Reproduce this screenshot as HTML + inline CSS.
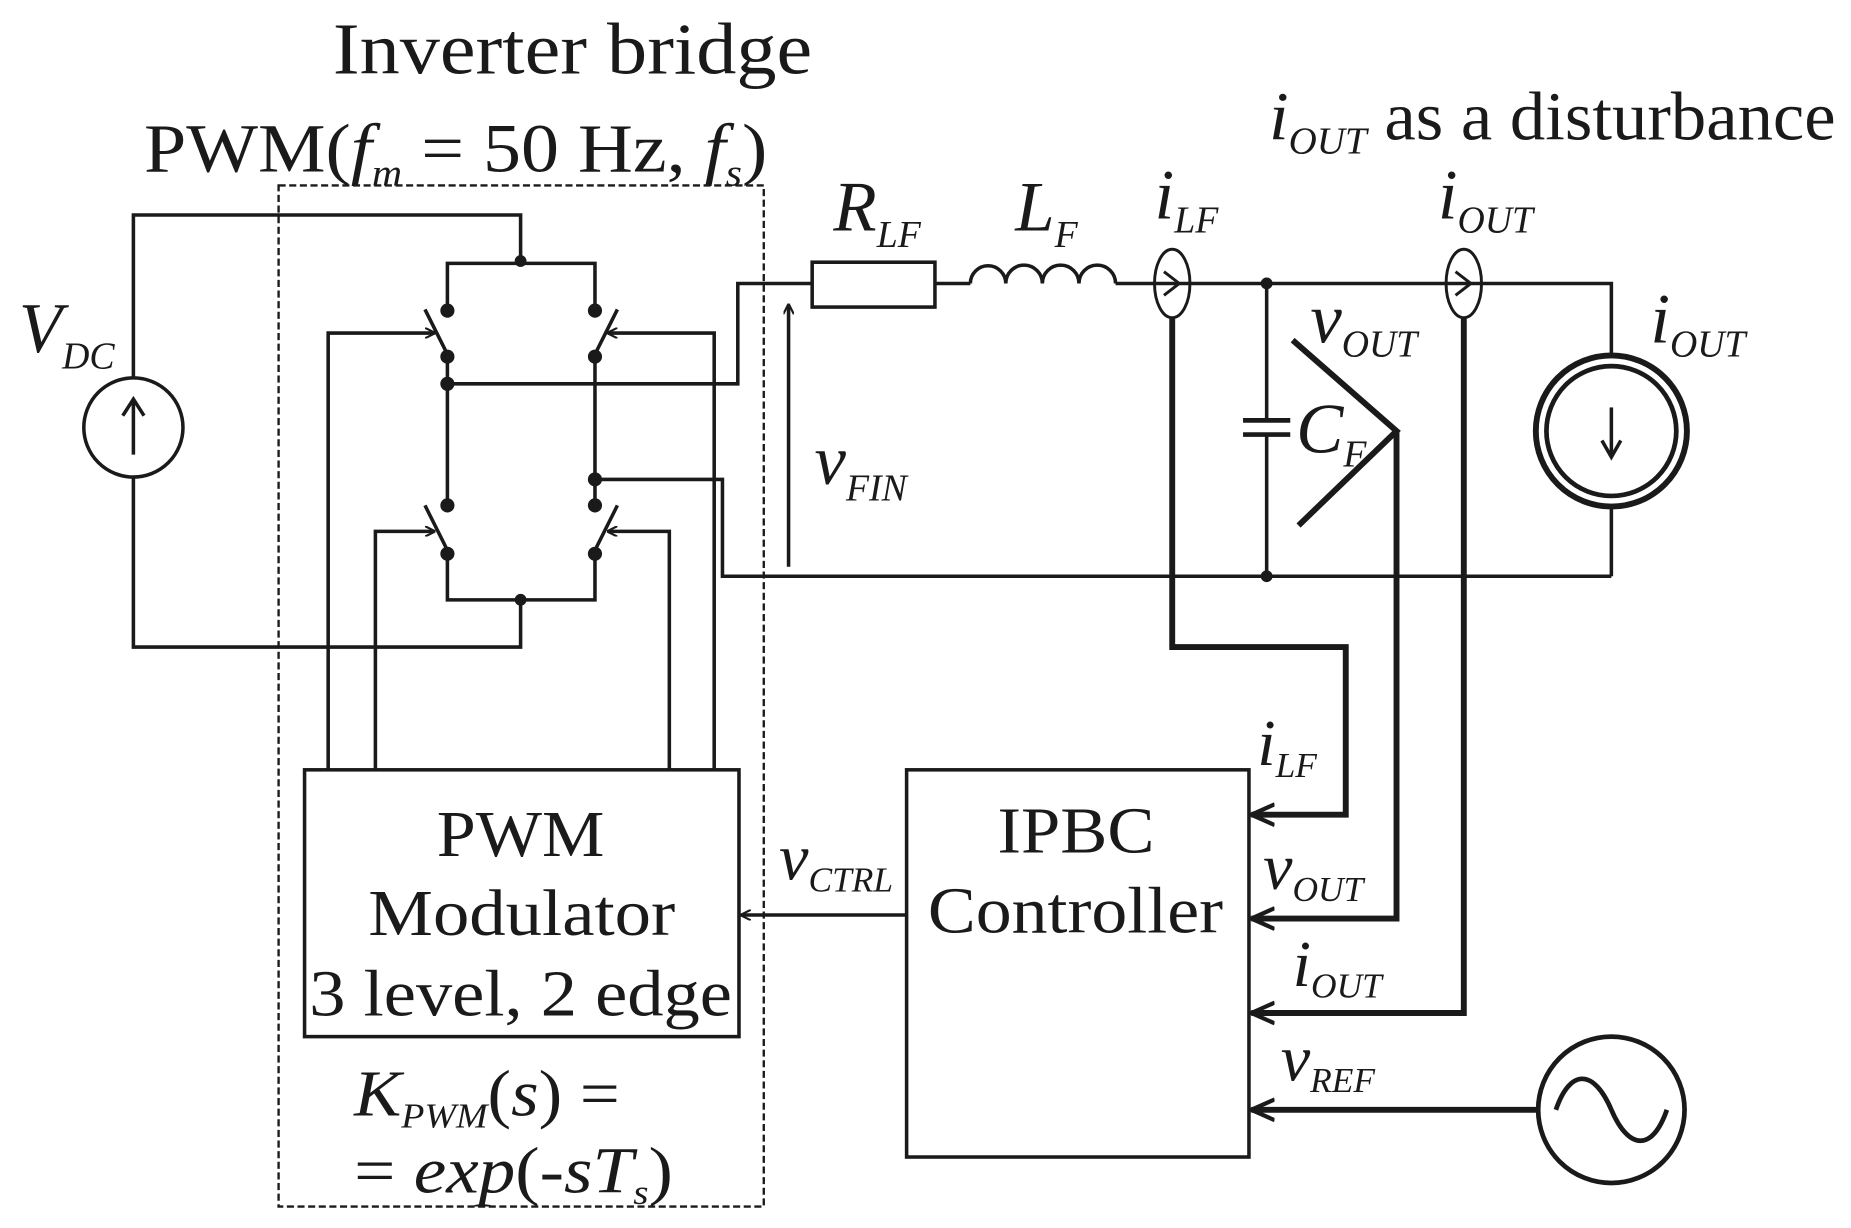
<!DOCTYPE html>
<html><head><meta charset="utf-8"><style>
html,body{margin:0;padding:0;background:#fff;}
svg{display:block;}
text{font-family:"Liberation Serif",serif;fill:#1a1a1a;}
.i{font-style:italic;}
</style></head><body>
<svg width="1851" height="1228" viewBox="0 0 1568 1040" xmlns="http://www.w3.org/2000/svg">
<defs>
<marker id="ah" viewBox="0 0 10 10" refX="9" refY="5" markerWidth="9" markerHeight="9" orient="auto" markerUnits="userSpaceOnUse"><path d="M0,0 L10,5 L0,10" fill="none" stroke="#1a1a1a" stroke-width="2"/></marker>
<marker id="ahb" viewBox="0 0 10 10" refX="9" refY="5" markerWidth="22" markerHeight="22" orient="auto" markerUnits="userSpaceOnUse"><path d="M0,1 L9,5 L0,9" fill="none" stroke="#1a1a1a" stroke-width="1.6"/></marker>
</defs>
<g stroke="#1a1a1a" fill="none" stroke-width="3">
<rect x="236" y="157" width="411" height="865" stroke-width="2" stroke-dasharray="6,3"/>
<circle cx="113" cy="362" r="42"/>
<line x1="113" y1="385" x2="113" y2="340"/><path d="M104,352 L113,338 L122,352"/>
<polyline points="113,320 113,182 441,182 441,223"/>
<polyline points="113,404 113,548 441,548 441,508"/>
<polyline points="379,263 379,223 504,223 504,263"/>
<line x1="379" y1="303" x2="379" y2="428"/>
<line x1="504" y1="303" x2="504" y2="428"/>
<polyline points="379,469 379,508 504,508 504,469"/>
<line x1="379" y1="300" x2="360" y2="262"/>
<line x1="504" y1="300" x2="523" y2="262"/>
<line x1="379" y1="466" x2="360" y2="428"/>
<line x1="504" y1="466" x2="523" y2="428"/>
<polyline points="278,652 278,282 368,282" marker-end="url(#ah)"/>
<polyline points="318,652 318,450 368,450" marker-end="url(#ah)"/>
<polyline points="605,652 605,282 515,282" marker-end="url(#ah)"/>
<polyline points="567,652 567,450 515,450" marker-end="url(#ah)"/>
<polyline points="379,325 625,325 625,240 688,240"/>
<polyline points="504,406 612,406 612,488 1365,488"/>
<rect x="688" y="222" width="104" height="38"/>
<line x1="792" y1="240" x2="822" y2="240"/>
<path d="M822,240 a15,15 0 0 1 30,0 a15,15 0 0 1 31,0 a15,15 0 0 1 31,0 a15,15 0 0 1 31,0"/>
<polyline points="945,240 1365,240 1365,300"/>
<line x1="1365" y1="430" x2="1365" y2="488"/>
<ellipse cx="993" cy="240" rx="15" ry="29" stroke-width="2.5"/>
<path d="M986,230 L999,240 L986,250" stroke-width="2.5"/>
<ellipse cx="1240" cy="240" rx="15" ry="29" stroke-width="2.5"/>
<path d="M1233,230 L1246,240 L1233,250" stroke-width="2.5"/>
<line x1="1073" y1="240" x2="1073" y2="356"/>
<line x1="1073" y1="368" x2="1073" y2="488"/>
<line x1="1053" y1="356" x2="1093" y2="356" stroke-width="4"/>
<line x1="1053" y1="368" x2="1093" y2="368" stroke-width="4"/>
<circle cx="1365" cy="365" r="64" stroke-width="5"/>
<circle cx="1365" cy="365" r="55" stroke-width="4"/>
<line x1="1365" y1="345" x2="1365" y2="385"/><path d="M1357,373 L1365,387 L1373,373"/>
<line x1="668" y1="480" x2="668" y2="258" marker-end="url(#ah)"/>
<polyline points="1095,288 1183,365 1100,445" stroke-width="5"/>
<g stroke-width="5">
<polyline points="993,270 993,548 1140,548 1140,690 1060,690" marker-end="url(#ahb)"/>
<polyline points="1183,365 1183,778 1060,778" marker-end="url(#ahb)"/>
<polyline points="1240,270 1240,858 1060,858" marker-end="url(#ahb)"/>
<line x1="1302" y1="940" x2="1060" y2="940" marker-end="url(#ahb)"/>
</g>
<rect x="258" y="652" width="368" height="226"/>
<rect x="768" y="652" width="290" height="328"/>
<line x1="768" y1="775" x2="628" y2="775" marker-end="url(#ah)"/>
<circle cx="1365" cy="940" r="62" stroke-width="4"/>
<path d="M1318,940 C1330,905 1350,905 1365,940 C1380,975 1400,975 1412,940" stroke-width="4"/>
</g>
<g fill="#1a1a1a">
<circle cx="441" cy="221" r="5"/>
<circle cx="379" cy="263" r="6"/><circle cx="379" cy="302" r="6"/><circle cx="379" cy="325" r="6"/>
<circle cx="504" cy="263" r="6"/><circle cx="504" cy="302" r="6"/><circle cx="504" cy="406" r="6"/>
<circle cx="379" cy="428" r="6"/><circle cx="379" cy="469" r="6"/>
<circle cx="504" cy="428" r="6"/><circle cx="504" cy="469" r="6"/>
<circle cx="441" cy="508" r="5"/>
<circle cx="1073" cy="240" r="5"/><circle cx="1073" cy="488" r="5"/>
</g>
<text x="282" y="62" font-size="62" textLength="406" lengthAdjust="spacingAndGlyphs">Inverter bridge</text>
<text x="122" y="145" font-size="58" textLength="528" lengthAdjust="spacingAndGlyphs">PWM(<tspan class="i">f</tspan><tspan class="i" font-size="32" dy="12">m</tspan><tspan dy="-12"> = 50 Hz, </tspan><tspan class="i">f</tspan><tspan class="i" font-size="32" dy="12">s</tspan><tspan dy="-12">)</tspan></text>
<text x="1075" y="118" font-size="58" textLength="480" lengthAdjust="spacingAndGlyphs"><tspan class="i">i</tspan><tspan class="i" font-size="32" dy="12">OUT</tspan><tspan dy="-12"> as a disturbance</tspan></text>
<text class="i" x="16" y="298" font-size="60">V<tspan font-size="32" dy="14">DC</tspan></text>
<text class="i" x="706" y="195" font-size="60">R<tspan font-size="32" dy="14">LF</tspan></text>
<text class="i" x="860" y="195" font-size="60">L<tspan font-size="32" dy="14">F</tspan></text>
<text class="i" x="978" y="185" font-size="60">i<tspan font-size="32" dy="12">LF</tspan></text>
<text class="i" x="1218" y="185" font-size="60">i<tspan font-size="32" dy="12">OUT</tspan></text>
<text class="i" x="1398" y="290" font-size="60">i<tspan font-size="32" dy="12">OUT</tspan></text>
<text class="i" x="1110" y="290" font-size="60">v<tspan font-size="32" dy="12">OUT</tspan></text>
<text class="i" x="1098" y="383" font-size="60">C<tspan font-size="32" dy="12">F</tspan></text>
<text class="i" x="690" y="410" font-size="60">v<tspan font-size="32" dy="14">FIN</tspan></text>
<text class="i" x="660" y="745" font-size="56">v<tspan font-size="30" dy="10">CTRL</tspan></text>
<text class="i" x="1065" y="648" font-size="56">i<tspan font-size="30" dy="10">LF</tspan></text>
<text class="i" x="1070" y="753" font-size="56">v<tspan font-size="30" dy="10">OUT</tspan></text>
<text class="i" x="1095" y="835" font-size="56">i<tspan font-size="30" dy="10">OUT</tspan></text>
<text class="i" x="1085" y="915" font-size="56">v<tspan font-size="30" dy="10">REF</tspan></text>
<text x="370" y="725" font-size="56" textLength="142" lengthAdjust="spacingAndGlyphs">PWM</text>
<text x="312" y="792" font-size="56" textLength="260" lengthAdjust="spacingAndGlyphs">Modulator</text>
<text x="262" y="860" font-size="56" textLength="358" lengthAdjust="spacingAndGlyphs">3 level, 2 edge</text>
<text x="845" y="722" font-size="56" textLength="133" lengthAdjust="spacingAndGlyphs">IPBC</text>
<text x="786" y="790" font-size="56" textLength="250" lengthAdjust="spacingAndGlyphs">Controller</text>
<text x="300" y="945" font-size="56" textLength="225" lengthAdjust="spacingAndGlyphs"><tspan class="i">K</tspan><tspan class="i" font-size="30" dy="10">PWM</tspan><tspan dy="-10">(</tspan><tspan class="i">s</tspan>) =</text>
<text x="300" y="1010" font-size="56" textLength="270" lengthAdjust="spacingAndGlyphs">= <tspan class="i">exp</tspan>(-<tspan class="i">sT</tspan><tspan class="i" font-size="30" dy="10">s</tspan><tspan dy="-10">)</tspan></text>
</svg>
</body></html>
